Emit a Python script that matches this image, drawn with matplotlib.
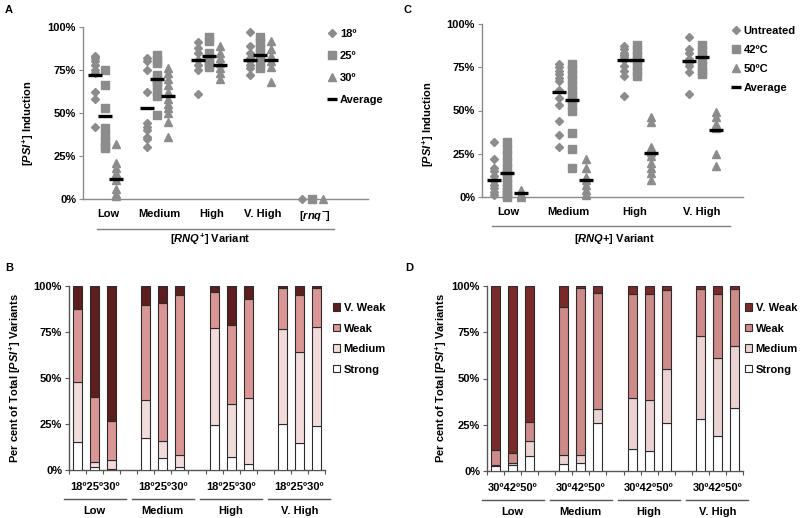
import matplotlib
matplotlib.use('Agg')
import matplotlib.pyplot as plt
from matplotlib.lines import Line2D
from matplotlib.patches import Patch

plt.rcParams['font.family'] = ['Liberation Sans', 'DejaVu Sans']
plt.rcParams['font.weight'] = 'bold'
plt.rcParams['axes.labelweight'] = 'bold'
plt.rcParams['font.size'] = 8
plt.rcParams['mathtext.fontset'] = 'custom'
plt.rcParams['mathtext.rm'] = 'Liberation Sans:bold'
plt.rcParams['mathtext.it'] = 'Liberation Sans:italic:bold'
plt.rcParams['mathtext.bf'] = 'Liberation Sans:bold'

# ---------------- Panel A data ----------------
cats_A = ['Low', 'Medium', 'High', 'V. High', r'[$\mathit{rnq}^{-}$]']
a_18 = [[83, 82, 80, 78, 75, 73, 62, 58, 42],
        [82, 80, 75, 62, 44, 42, 40, 36, 35, 30],
        [91, 88, 85, 81, 78, 75, 61],
        [97, 89, 85, 82, 80, 78, 76, 72],
        [0]]
a_25 = [[75, 66, 53, 41, 37, 34, 31, 29.5],
        [84, 81, 79, 72, 70, 68, 66, 62, 60, 49],
        [94, 92, 85, 82, 80, 78, 77],
        [94, 91, 88, 85, 82, 79, 76],
        [0]]
a_30 = [[32, 21, 18, 15, 11, 6, 3, 1.5],
        [76, 73, 70, 66, 62, 58, 55, 53, 50, 45, 36],
        [89, 85, 82, 79, 76, 73, 70],
        [92, 87, 83, 80, 77, 68],
        [0]]
a_avg_18 = [72, 53, 81, 81]
a_avg_25 = [48, 69.5, 83, 83.5]
a_avg_30 = [11.5, 60, 78, 81]
legend_A = ['18º', '25º', '30º', 'Average']

# ---------------- Panel C data ----------------
cats_C = ['Low', 'Medium', 'High', 'V. High']
c_un = [[32, 22, 17, 15, 12, 9, 7, 5, 3, 1],
        [77, 75, 73, 71, 69, 67, 62, 57, 53, 44, 36, 29],
        [87.5, 85.5, 83, 82, 81, 79, 76, 73, 70, 58.5],
        [92.5, 85.5, 83, 80, 77.5, 75.5, 72.5, 59.5]]
c_42 = [[32, 28, 24, 20, 17, 14, 11, 8, 5, 3, 1, 0],
        [77, 74, 71, 68, 65, 62, 59, 56, 53, 50, 37, 28, 17],
        [88, 85, 82, 79, 76, 73, 70],
        [88, 85, 82, 79, 76, 73, 71]]
c_50 = [[4, 2, 1, 0],
        [22, 16.5, 11.5, 10, 7, 4, 2, 1],
        [46.5, 43.5, 29, 26, 23.5, 19.5, 16.5, 14, 10],
        [49, 46.5, 42, 40, 25, 18]]
c_avg_un = [10, 60.5, 79, 78.5]
c_avg_42 = [14, 56, 79, 81]
c_avg_50 = [2.5, 10, 25.5, 38.5]
legend_C = ['Untreated', '42ºC', '50ºC', 'Average']

# ---------------- Panel B data ----------------
groups = ['Low', 'Medium', 'High', 'V. High']
temps_B = '18º25º30º'
b_strong = [15.1, 1.5, 0.5, 17.3, 6.4, 1.6, 24.2, 7.3, 3.3, 24.9, 14.5, 24.0]
b_medium = [32.7, 2.7, 4.8, 20.9, 9.2, 6.8, 53.1, 28.7, 35.8, 51.8, 49.5, 53.6]
b_weak = [39.5, 35.4, 21.1, 51.4, 75.1, 86.7, 19.6, 42.9, 54.0, 22.0, 31.3, 21.1]
b_vweak = [12.7, 60.4, 73.6, 10.4, 9.3, 4.9, 3.1, 21.1, 6.9, 1.3, 4.7, 1.3]

# ---------------- Panel D data ----------------
temps_D = '30º42º50º'
d_strong = [2.7, 3.3, 8.2, 4.0, 4.4, 25.8, 11.8, 10.9, 26.0, 28.2, 19.1, 34.2]
d_medium = [0.3, 1.2, 8.2, 4.5, 4.3, 7.8, 27.8, 27.3, 29.1, 44.9, 41.8, 33.4]
d_weak = [8.5, 5.1, 10.3, 80.0, 90.0, 62.4, 56.2, 57.3, 42.7, 25.4, 34.7, 30.9]
d_vweak = [88.5, 90.4, 73.3, 11.5, 1.3, 4.0, 4.2, 4.5, 2.2, 1.5, 4.4, 1.5]
strength_labels = ['V. Weak', 'Weak', 'Medium', 'Strong']

W, H = 800, 518
fig = plt.figure(figsize=(8, 5.18), dpi=100)


def ax_px(l, t, r, b):
    return fig.add_axes([l / W, 1 - b / H, (r - l) / W, (b - t) / H])


GRAY = '#8c8c8c'
SPINE_G = '#8a8a8a'
pct = ['0%', '25%', '50%', '75%', '100%']
ylab = r'[$\mathit{PSI}^{+}$] Induction'


def style_scatter_axes(ax):
    for s in ['top', 'right']:
        ax.spines[s].set_visible(False)
    for s in ['left', 'bottom']:
        ax.spines[s].set_color(SPINE_G)
        ax.spines[s].set_linewidth(1.0)
    ax.set_ylim(0, 100)
    ax.set_yticks([0, 25, 50, 75, 100])
    ax.set_yticklabels(pct)
    ax.tick_params(axis='y', length=3, color=SPINE_G, pad=2)
    ax.tick_params(axis='x', length=0, pad=7)


def scatter_group(ax, series, avgs, offsets, markers, sizes, half):
    for ser, av, off, mk, ms in zip(series, avgs, offsets, markers, sizes):
        for i, vals in enumerate(ser):
            ax.plot([i + off] * len(vals), vals, ls='none', marker=mk, ms=ms,
                    color=GRAY, mec=GRAY, clip_on=False, zorder=3)
        for i, v in enumerate(av):
            ax.plot([i + off - half, i + off + half], [v, v], color='black',
                    lw=2.4, solid_capstyle='butt', zorder=4, clip_on=False)


markers = ['D', 's', '^']
msizes = [4.4, 6.0, 6.2]

# ---------------- Panel A ----------------
axA = ax_px(83, 27, 368, 199)
style_scatter_axes(axA)
axA.set_xlim(-0.43, 5.08)
scatter_group(axA, [a_18, a_25, a_30], [a_avg_18, a_avg_25, a_avg_30],
              [-0.2, 0.0, 0.21], markers, msizes, 0.135)
axA.set_xticks([0.05, 1.05, 2.05, 3.05, 4.05])
axA.set_xticklabels(cats_A)
axA.set_ylabel(ylab)
axA.yaxis.set_label_coords(-0.165, 0.44)
axA.plot([-0.15, 4.43], [-0.174, -0.174], transform=axA.get_xaxis_transform(),
         color='#808080', lw=1.0, clip_on=False)
axA.text(2.03, -0.235, r'[$\mathit{RNQ}^{+}$] Variant', transform=axA.get_xaxis_transform(),
         ha='center', va='center')

hA = [Line2D([], [], ls='none', marker=m, ms=s, color=GRAY) for m, s in zip(markers, msizes)]
hA.append(Line2D([], [], color='black', lw=2.4, solid_capstyle='butt'))
fig.legend(hA, legend_A, loc='upper left', bbox_to_anchor=(327 / W, 1 - 29 / H),
           frameon=False, handlelength=0.9, handletextpad=0.25, labelspacing=1.08,
           borderpad=0, borderaxespad=0, fontsize=8)

# ---------------- Panel C ----------------
axC = ax_px(482, 24, 743, 197)
style_scatter_axes(axC)
axC.set_xlim(-0.385, 3.63)
scatter_group(axC, [c_un, c_42, c_50], [c_avg_un, c_avg_42, c_avg_50],
              [-0.2, 0.0, 0.22], markers, msizes, 0.11)
axC.set_xticks([0.02, 0.95, 1.97, 3.0])
axC.set_xticklabels(cats_C)
axC.set_ylabel(ylab)
axC.yaxis.set_label_coords(-0.175, 0.42)
axC.plot([-0.23, 3.43], [-0.168, -0.168], transform=axC.get_xaxis_transform(),
         color='#808080', lw=1.0, clip_on=False)
axC.text(1.65, -0.243, '[$\\mathit{RNQ}$+] Variant', transform=axC.get_xaxis_transform(),
         ha='center', va='center')
fig.legend(hA, legend_C, loc='upper left', bbox_to_anchor=(731 / W, 1 - 26 / H),
           frameon=False, handlelength=0.9, handletextpad=0.25, labelspacing=0.82,
           borderpad=0, borderaxespad=0, fontsize=8)


# ---------------- Bar panels ----------------
def bar_panel(l, t, r, b, strong, medium, weak, vweak, temps, cols, ylx, leg_x):
    ax = ax_px(l, t, r, b)
    pos = [g * 4 + i for g in range(4) for i in range(3)]
    bottoms = [0] * 12
    for vals, c in zip([strong, medium, weak, vweak], cols[::-1]):
        ax.bar(pos, vals, bottom=bottoms, width=0.53, color=c, edgecolor='#2b2b2b',
               linewidth=0.8, zorder=3)
        bottoms = [bb + v for bb, v in zip(bottoms, vals)]
    ax.set_xlim(-0.5, 14.5)
    ax.set_ylim(0, 100)
    for s in ['top', 'right']:
        ax.spines[s].set_visible(False)
    for s in ['left', 'bottom']:
        ax.spines[s].set_color('#555555')
        ax.spines[s].set_linewidth(1.0)
    ax.set_yticks([0, 25, 50, 75, 100])
    ax.set_yticklabels(pct)
    ax.tick_params(axis='y', length=3, color='#555555', pad=2)
    ax.set_xticks([x + 0.5 for x in range(-1, 15)])
    ax.set_xticklabels([])
    ax.tick_params(axis='x', length=3, color='#555555')
    tr = ax.get_xaxis_transform()
    for g, name in enumerate(groups):
        c = g * 4 + 1
        ax.text(c, -0.092, temps, transform=tr, ha='center', va='center')
        ax.plot([c - 1.82, c + 1.82], [-0.158, -0.158], transform=tr, color='#555555',
                lw=1.0, clip_on=False)
        ax.text(c, -0.222, name, transform=tr, ha='center', va='center')
    ax.set_ylabel(r'Per cent of Total [$\mathit{PSI}^{+}$] Variants')
    ax.yaxis.set_label_coords(ylx, 0.5)
    handles = [Patch(facecolor=c, edgecolor='#2b2b2b', linewidth=0.8) for c in cols]
    fig.legend(handles, strength_labels, loc='upper left',
               bbox_to_anchor=(leg_x / W, 1 - 303 / H), frameon=False,
               handlelength=0.65, handleheight=0.65, handletextpad=0.3,
               labelspacing=0.95, borderpad=0, borderaxespad=0, fontsize=8)
    return ax


cols_B = ['#5e1e1e', '#d99694', '#f2dcdb', '#ffffff']
cols_D = ['#7a2a2a', '#cc8a89', '#ead3d2', '#ffffff']
bar_panel(69, 286, 325, 470, b_strong, b_medium, b_weak, b_vweak, temps_B, cols_B, -0.18, 333)
bar_panel(487, 286, 743, 471, d_strong, d_medium, d_weak, d_vweak, temps_D, cols_D, -0.15, 745)

# panel letters
for lab, x, y in [('A', 5, 10), ('B', 5, 268), ('C', 403, 10), ('D', 405, 268)]:
    fig.text(x / W, 1 - y / H, lab, ha='left', va='center', fontsize=8, fontweight='bold')

fig.savefig('out.png', dpi=100)
